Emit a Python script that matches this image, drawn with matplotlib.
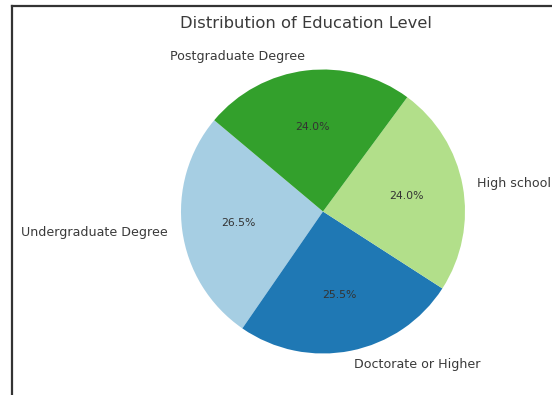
import matplotlib
matplotlib.use("Agg")
import matplotlib.pyplot as plt
from matplotlib.lines import Line2D

labels = ["Undergraduate Degree", "Doctorate or Higher", "High school", "Postgraduate Degree"]
shares = [26.5, 25.5, 24.0, 24.0]
colors = ["#a6cee3", "#1f78b4", "#b2df8a", "#33a02c"]
title = "Distribution of Education Level"

W, H = 552, 395
fig = plt.figure(figsize=(W / 100, H / 100), dpi=100)
fig.patch.set_facecolor("white")

cx, cy, r = 323, 211.5, 142
ax = fig.add_axes([0, 0, 1, 1])
ax.pie(shares, labels=labels, colors=colors, autopct="%1.1f%%", startangle=140,
       textprops={"fontsize": 9.1, "color": "#3a3a3a"})
for t in ax.texts:
    if t.get_text().endswith("%"):
        t.set_fontsize(7.8)
        t.set_color("#333333")
ax.set_aspect("equal")
ax.set_xlim(-cx / r, (W - cx) / r)
ax.set_ylim(-(H - cy) / r, cy / r)
ax.axis("off")

fig.text(306 / W, 1 - 23 / H, title, ha="center", va="center", fontsize=11.8, color="#3a3a3a")

# screenshot border (left and top)
fig.add_artist(Line2D([11.5 / W, 11.5 / W], [0, 1 - 5.5 / H], transform=fig.transFigure,
                      color="#333333", lw=1.6, solid_capstyle="projecting"))
fig.add_artist(Line2D([11.5 / W, 1], [1 - 5.5 / H, 1 - 5.5 / H], transform=fig.transFigure,
                      color="#333333", lw=1.6, solid_capstyle="projecting"))

fig.savefig("out.png", dpi=100)
